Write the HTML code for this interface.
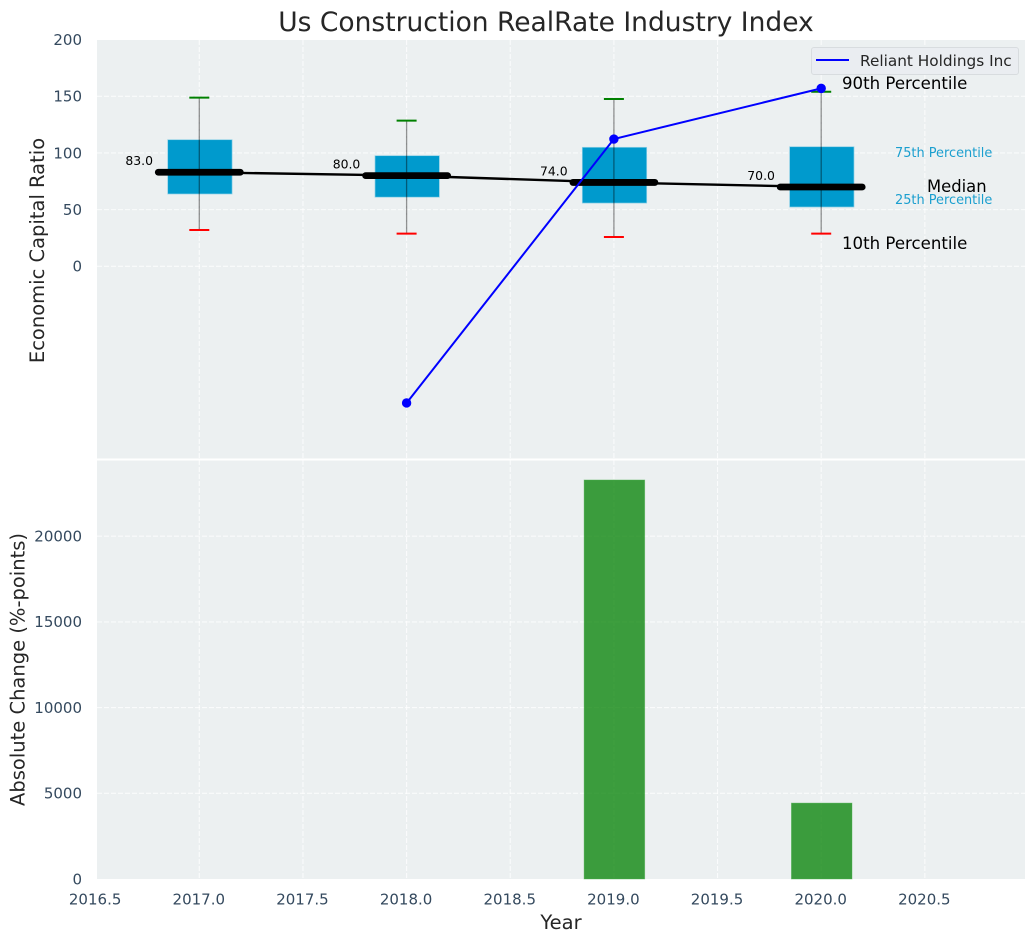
<!DOCTYPE html>
<html lang="en">
<head>
<meta charset="utf-8">
<title>Us Construction RealRate Industry Index</title>
<style>
html,body{margin:0;padding:0;background:#fff;}
svg{display:block;font-family:"DejaVu Sans","Liberation Sans",sans-serif;}
</style>
</head>
<body>
<svg id="chart" xmlns="http://www.w3.org/2000/svg" width="1035" height="942" viewBox="0 0 1035 942">
  <rect x="97" y="40" width="928" height="420" fill="#ecf0f1"/>
  <rect x="97" y="460" width="928" height="419" fill="#ecf0f1"/>
  <g id="grid"></g>
  <g id="bars"></g>
  <g id="boxes"></g>
  <g id="lines"></g>
  <rect x="97" y="458.5" width="928" height="2" fill="#fff"/>
  <g id="ticks"></g>
  <text x="546" y="31" text-anchor="middle" font-size="26.5" fill="#262626">Us Construction RealRate Industry Index</text>
  <text transform="translate(44,250.5) rotate(-90)" text-anchor="middle" font-size="19.5" fill="#262626">Economic Capital Ratio</text>
  <text transform="translate(24.5,669.5) rotate(-90)" text-anchor="middle" font-size="19.5" fill="#262626">Absolute Change (%-points)</text>
  <text x="561" y="929" text-anchor="middle" font-size="19.5" fill="#262626">Year</text>
  <g>
    <rect x="811.5" y="47.5" width="207" height="27" rx="2.5" fill="#eaedf1" stroke="#d8dcdf"/>
    <line x1="816" y1="60" x2="849" y2="60" stroke="#0000ff" stroke-width="2"/>
    <text x="860" y="66" font-size="15.3" fill="#262626">Reliant Holdings Inc</text>
  </g>
  <g>
    <text x="842" y="89" font-size="16.6" fill="#000">90th Percentile</text>
    <text x="895" y="157" font-size="12.9" fill="#1b9fcf">75th Percentile</text>
    <text x="927" y="192" font-size="16.4" fill="#000">Median</text>
    <text x="895" y="204" font-size="12.9" fill="#1b9fcf">25th Percentile</text>
    <text x="842" y="249" font-size="16.6" fill="#000">10th Percentile</text>
  </g>
</svg>
<script>
// Chart data
const years = [2017, 2018, 2019, 2020];
const p90 = [148.8, 128.5, 147.6, 154];
const p75 = [111.7, 97.6, 105, 105.5];
const medians = [83, 80, 74, 70];
const p25 = [63.8, 61, 55.8, 52.3];
const p10 = [32, 28.8, 25.8, 28.8];
const companyYears = [2018, 2019, 2020];
const companyValues = [-120.6, 112.3, 157];
const changeYears = [2019, 2020];
const changeValues = [23280, 4430];
const xTicks = [2016.5, 2017, 2017.5, 2018, 2018.5, 2019, 2019.5, 2020, 2020.5];
const xTickLabels = ['2016.5', '2017.0', '2017.5', '2018.0', '2018.5', '2019.0', '2019.5', '2020.0', '2020.5'];
const topTicks = [0, 50, 100, 150, 200];
const bottomTicks = [0, 5000, 10000, 15000, 20000];

// Axis functions
const xScale = v => 199.3 + (v - 2017) * 207.3;
const yTop = v => 266.3 - v * 1.1333;
const yBottom = v => 879 - v * 0.01714;
const NS = 'http://www.w3.org/2000/svg';
function make(parent, tag, attrs, text) {
  const el = document.createElementNS(NS, tag);
  for (const k in attrs) el.setAttribute(k, attrs[k]);
  if (text !== undefined) el.textContent = text;
  parent.appendChild(el);
  return el;
}
const grid = document.getElementById('grid');
const bars = document.getElementById('bars');
const boxes = document.getElementById('boxes');
const lines = document.getElementById('lines');
const ticks = document.getElementById('ticks');
const gridStyle = {stroke: '#fff', 'stroke-width': 1.1, 'stroke-dasharray': '5 2', 'stroke-opacity': 0.75};
const tickSize = 15;
const tickColor = '#34495e';

// Grid and tick labels
xTicks.forEach((t, i) => {
  const x = xScale(t);
  if (x >= 97) {
    const g = make(grid, 'line', {x1: x, y1: 40, x2: x, y2: 879, ...gridStyle});
    
    
  }
  const lab = make(ticks, 'text', {x: x - 0.5, y: 904.5, 'text-anchor': 'middle', 'font-size': tickSize, fill: tickColor}, xTickLabels[i]);
  
  
});
topTicks.forEach(t => {
  const y = yTop(t);
  if (t < 200) {
    const g = make(grid, 'line', {x1: 97, y1: y, x2: 1025, y2: y, ...gridStyle});
    
    
  }
  const lab = make(ticks, 'text', {x: 82, y: y + 5.3, 'text-anchor': 'end', 'font-size': tickSize, fill: tickColor}, String(t));
  
  
});
bottomTicks.forEach(t => {
  const y = yBottom(t);
  if (t > 0) {
    const g = make(grid, 'line', {x1: 97, y1: y, x2: 1025, y2: y, ...gridStyle});
    
    
  }
  const lab = make(ticks, 'text', {x: 82, y: y + 5.3, 'text-anchor': 'end', 'font-size': tickSize, fill: tickColor}, String(t));
  
  
});

// Bottom bars
changeYears.forEach((yr, i) => {
  const c = xScale(yr);
  const top = yBottom(changeValues[i]);
  const b = make(bars, 'rect', {x: c - 29.8, y: top, width: 60.6, height: yBottom(0) - top, fill: '#008000', 'fill-opacity': 0.75, stroke: '#4caf50', 'stroke-opacity': 0.5, 'stroke-width': 0.8});
  
  
});

// Boxes
years.forEach((yr, i) => {
  const c = xScale(yr);
  const top = yTop(p75[i]);
  const box = make(boxes, 'rect', {x: c - 31.6, y: top, width: 64.4, height: yTop(p25[i]) - top, fill: '#009acd', stroke: '#8fd0e6', 'stroke-width': 0.7});
  
  
  const w = make(boxes, 'line', {x1: c, y1: yTop(p90[i]), x2: c, y2: yTop(p10[i]), stroke: '#000', 'stroke-opacity': 0.42, 'stroke-width': 1.3});
  
  
  const hi = make(boxes, 'line', {x1: c - 10, y1: yTop(p90[i]), x2: c + 10, y2: yTop(p90[i]), stroke: '#008000', 'stroke-width': 2});
  
  
  const lo = make(boxes, 'line', {x1: c - 10, y1: yTop(p10[i]), x2: c + 10, y2: yTop(p10[i]), stroke: '#ff0000', 'stroke-width': 2});
  
  
});

// Median trend and company line
const medianPath = make(lines, 'polyline', {points: years.map((yr, i) => xScale(yr) + ',' + yTop(medians[i])).join(' '), fill: 'none', stroke: '#000', 'stroke-width': 2.4});


years.forEach((yr, i) => {
  const c = xScale(yr);
  const y = yTop(medians[i]);
  const m = make(lines, 'line', {x1: c - 41, y1: y, x2: c + 41, y2: y, stroke: '#000', 'stroke-width': 6.8, 'stroke-linecap': 'round'});
  
  
  const lab = make(lines, 'text', {x: c - 46.3, y: y - 7, 'text-anchor': 'end', 'font-size': 12.4, fill: '#000'}, medians[i].toFixed(1));
  
  
});
const companyPath = make(lines, 'polyline', {points: companyYears.map((yr, i) => xScale(yr) + ',' + yTop(companyValues[i])).join(' '), fill: 'none', stroke: '#0000ff', 'stroke-width': 2});


companyYears.forEach((yr, i) => {
  const p = make(lines, 'circle', {cx: xScale(yr), cy: yTop(companyValues[i]), r: 4.7, fill: '#0000ff'});
  
  
});
</script>
</body>
</html>
